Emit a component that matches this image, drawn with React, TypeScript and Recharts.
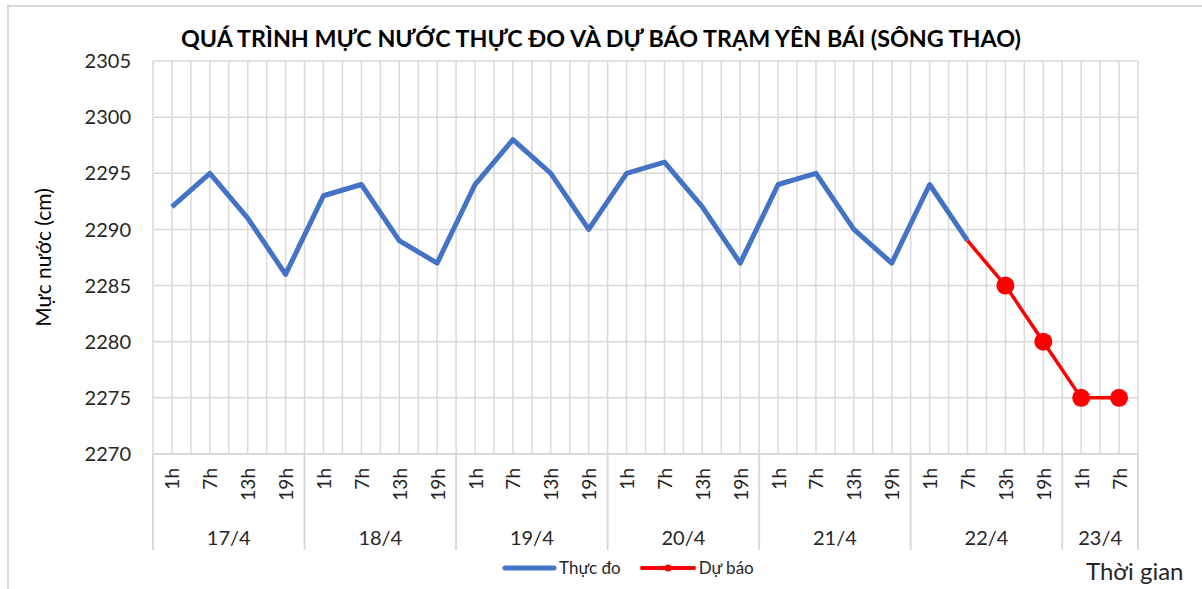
import { LineChart, Line, XAxis, YAxis, CartesianGrid, Legend } from 'recharts'

const hours = [
  '1h', '7h', '13h', '19h',
  '1h', '7h', '13h', '19h',
  '1h', '7h', '13h', '19h',
  '1h', '7h', '13h', '19h',
  '1h', '7h', '13h', '19h',
  '1h', '7h', '13h', '19h',
  '1h', '7h',
]
const dayLabels = ['17/4', '18/4', '19/4', '20/4', '21/4', '22/4', '23/4']
const daySpans = [4, 4, 4, 4, 4, 4, 2]

const thucDo = [
  2292, 2295, 2291, 2286,
  2293, 2294, 2289, 2287,
  2294, 2298, 2295, 2290,
  2295, 2296, 2292, 2287,
  2294, 2295, 2290, 2287,
  2294, 2289, null, null,
  null, null,
]
const duBao = [
  null, null, null, null,
  null, null, null, null,
  null, null, null, null,
  null, null, null, null,
  null, null, null, null,
  null, 2289, 2285, 2280,
  2275, 2275,
]
const yTicks = [2270, 2275, 2280, 2285, 2290, 2295, 2300, 2305]

const W = 1202
const H = 589
const M_TOP = 61
const M_RIGHT = 64
const Y_W = 153
const X_H = 135
const PLOT_W = W - Y_W - M_RIGHT
const PLOT_BOTTOM = H - X_H
const BAND = PLOT_W / hours.length
const GRID = '#d9d9d9'
const TEXT = '#262626'
const FONT = 'Lato, "Noto Sans", sans-serif'

const data = hours.map((h, i) => ({ hour: h, thucDo: thucDo[i], duBao: duBao[i] }))

// index of the first category of each day group
const groupStarts: number[] = []
daySpans.reduce((acc, n) => {
  groupStarts.push(acc)
  return acc + n
}, 0)

function HourTick({ x, y, payload }: any) {
  const i = payload.index
  const g = groupStarts.indexOf(i)
  const left = x - BAND / 2
  return (
    <g>
      <text
        x={x}
        y={y}
        transform={`rotate(-90 ${x} ${y})`}
        textAnchor="end"
        dominantBaseline="central"
        fontSize={19}
        fontFamily={FONT}
        fill={TEXT}
      >
        {payload.value}
      </text>
      {g >= 0 && (
        <>
          <line x1={left} x2={left} y1={PLOT_BOTTOM} y2={550} stroke={GRID} strokeWidth={2} />
          <text
            x={left + (daySpans[g] * BAND) / 2}
            y={537}
            textAnchor="middle"
            dominantBaseline="central"
            fontSize={20}
            fontFamily={FONT}
            fill={TEXT}
          >
            {dayLabels[g]}
          </text>
        </>
      )}
      {i === hours.length - 1 && (
        <line x1={x + BAND / 2} x2={x + BAND / 2} y1={PLOT_BOTTOM} y2={550} stroke={GRID} strokeWidth={2} />
      )}
    </g>
  )
}

function ForecastDot({ cx, cy, index }: any) {
  if (duBao[index] == null || thucDo[index] != null) return <g key={`d${index}`} />
  return <circle key={`d${index}`} cx={cx} cy={cy} r={9} fill="#ff0000" />
}

function LegendBox() {
  return (
    <div style={{ display: 'flex', alignItems: 'center', fontSize: 17, color: TEXT, fontFamily: FONT }}>
      <svg width={55} height={12}>
        <line x1={3} y1={6} x2={52} y2={6} stroke="#4472c4" strokeWidth={5} strokeLinecap="round" />
      </svg>
      <span style={{ marginLeft: 2 }}>Thực đo</span>
      <svg width={58} height={12} style={{ marginLeft: 18 }}>
        <line x1={3} y1={6} x2={55} y2={6} stroke="#ff0000" strokeWidth={4} strokeLinecap="round" />
        <circle cx={29} cy={6} r={3.5} fill="#ff0000" />
      </svg>
      <span style={{ marginLeft: 2 }}>Dự báo</span>
    </div>
  )
}

export default function App() {
  return (
    <div
      style={{
        position: 'absolute',
        left: 0,
        top: 0,
        width: W,
        height: H,
        background: '#fff',
        fontFamily: FONT,
        color: TEXT,
      }}
    >
      <div
        style={{
          position: 'absolute',
          left: 7,
          top: 5,
          right: 0,
          bottom: 0,
          borderTop: `2px solid ${GRID}`,
          borderLeft: `2px solid ${GRID}`,
        }}
      />
      <div
        style={{
          position: 'absolute',
          left: 0,
          width: W,
          top: 24,
          textAlign: 'center',
          fontWeight: 700,
          fontSize: 23.3,
          color: '#000',
        }}
      >
        QUÁ TRÌNH MỰC NƯỚC THỰC ĐO VÀ DỰ BÁO TRẠM YÊN BÁI (SÔNG THAO)
      </div>
      <div style={{ position: 'absolute', left: 1086, top: 556, fontSize: 24, color: TEXT }}>Thời gian</div>
      <LineChart
        width={W}
        height={H}
        data={data}
        margin={{ top: M_TOP, right: M_RIGHT, bottom: 0, left: 0 }}
      >
        <CartesianGrid
          stroke={GRID}
          strokeWidth={1.5}
          verticalCoordinatesGenerator={({ offset }: any) =>
            Array.from({ length: hours.length * 2 + 1 }, (_, k) => offset.left + (k * offset.width) / (hours.length * 2))
          }
        />
        <XAxis
          dataKey="hour"
          interval={0}
          height={X_H}
          padding={{ left: BAND / 2, right: BAND / 2 }}
          tickLine={false}
          tickSize={0}
          tickMargin={14}
          axisLine={{ stroke: GRID, strokeWidth: 2 }}
          tick={<HourTick />}
        />
        <YAxis
          width={Y_W}
          domain={[2270, 2305]}
          ticks={yTicks}
          interval={0}
          axisLine={false}
          tickLine={false}
          tickSize={0}
          tickMargin={22}
          tick={{ fontSize: 20, fill: TEXT, fontFamily: FONT }}
          label={{
            value: 'Mực nước (cm)',
            angle: -90,
            position: 'insideLeft',
            offset: 44,
            style: { fontSize: 21, fill: '#000', fontFamily: FONT, textAnchor: 'middle' },
          }}
        />
        <Legend
          verticalAlign="middle"
          align="center"
          wrapperStyle={{ top: 557, left: 502, width: 'auto' }}
          content={<LegendBox />}
        />
        <Line
          type="linear"
          dataKey="thucDo"
          stroke="#4472c4"
          strokeWidth={5}
          strokeLinejoin="round"
          dot={false}
          activeDot={false}
          connectNulls={false}
          isAnimationActive={false}
        />
        <Line
          type="linear"
          dataKey="duBao"
          stroke="#ff0000"
          strokeWidth={3.5}
          strokeLinejoin="round"
          dot={<ForecastDot />}
          activeDot={false}
          isAnimationActive={false}
        />
      </LineChart>
    </div>
  )
}
